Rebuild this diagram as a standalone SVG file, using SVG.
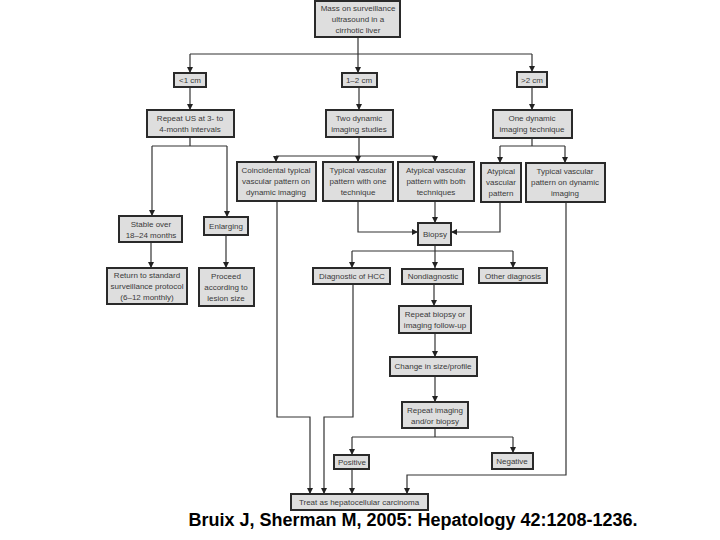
<svg xmlns="http://www.w3.org/2000/svg" width="720" height="540" viewBox="0 0 720 540">
<style>
.b{fill:#dedede;stroke:#2a2a2a;stroke-width:2}
.t{font-family:"Liberation Sans",Arial,sans-serif;font-size:8px;fill:#3a3a3a;text-anchor:middle}
.c{fill:none;stroke:#333;stroke-width:1.2}
.a{marker-end:url(#ah)}
</style>
<defs>
<marker id="ah" viewBox="0 0 10 10" refX="10" refY="5" markerWidth="6" markerHeight="6" markerUnits="userSpaceOnUse" orient="auto">
<path d="M0,0 L10,5 L0,10 z" fill="#222"/>
</marker>
</defs>
<rect width="720" height="540" fill="#fff"/>
<g id="connectors">
<path class="c a" d="M358,37 V73"/>
<path class="c" d="M190,54 H532"/>
<path class="c a" d="M190,54 V73"/>
<path class="c a" d="M532,54 V72"/>
<path class="c a" d="M190,87 V110"/>
<path class="c a" d="M359,87 V110"/>
<path class="c a" d="M532,87 V110"/>
<path class="c" d="M190,137 V146 M152,146 H227"/>
<path class="c a" d="M152,146 V216"/>
<path class="c a" d="M227,146 V217"/>
<path class="c a" d="M151,242 V268"/>
<path class="c a" d="M226,235 V268"/>
<path class="c" d="M359,137 V156 M276,156 H435"/>
<path class="c a" d="M276,156 V162"/>
<path class="c a" d="M358,156 V162"/>
<path class="c a" d="M435,156 V162"/>
<path class="c" d="M532,138 V146 M500,146 H565"/>
<path class="c a" d="M500,146 V163"/>
<path class="c a" d="M565,146 V163"/>
<path class="c a" d="M358,201 V232 H418"/>
<path class="c a" d="M435,201 V223"/>
<path class="c a" d="M500,202 V232 H451"/>
<path class="c a" d="M435,245 V268"/>
<path class="c" d="M352,251 H513"/>
<path class="c a" d="M352,251 V268"/>
<path class="c a" d="M513,251 V268"/>
<path class="c a" d="M434,284 V306"/>
<path class="c a" d="M435,333 V357"/>
<path class="c a" d="M435,376 V402"/>
<path class="c" d="M435,428 V437 M352,437 H513"/>
<path class="c a" d="M352,437 V455"/>
<path class="c a" d="M513,437 V453"/>
<path class="c a" d="M352,469 V494"/>
<path class="c a" d="M277,201 V417 H310 V494"/>
<path class="c a" d="M353,284 V417 H324 V494"/>
<path class="c a" d="M566,202 V475 H407 V494"/>
</g>
<g id="mass"><rect class="b" x="315" y="1" width="85" height="36"/>
<text class="t" x="358" y="11">Mass on surveillance</text><text class="t" x="358" y="22">ultrasound in a</text><text class="t" x="358" y="33">cirrhotic liver</text></g>
<g id="lt1"><rect class="b" x="174" y="73" width="32" height="14"/><text class="t" x="190" y="83">&lt;1 cm</text></g>
<g id="r12"><rect class="b" x="342" y="73" width="35" height="14"/><text class="t" x="359" y="83">1–2 cm</text></g>
<g id="gt2"><rect class="b" x="517" y="72" width="30" height="15"/><text class="t" x="532" y="83">&gt;2 cm</text></g>
<g id="repeatus"><rect class="b" x="147" y="110" width="87" height="27"/>
<text class="t" x="190" y="121">Repeat US at 3- to</text><text class="t" x="190" y="132">4-month intervals</text></g>
<g id="twodyn"><rect class="b" x="326" y="110" width="67" height="27"/>
<text class="t" x="359" y="121">Two dynamic</text><text class="t" x="359" y="132">imaging studies</text></g>
<g id="onedyn"><rect class="b" x="493" y="110" width="79" height="28"/>
<text class="t" x="532" y="121">One dynamic</text><text class="t" x="532" y="132">imaging technique</text></g>
<g id="coinc"><rect class="b" x="237" y="162" width="79" height="39"/>
<text class="t" x="276" y="173">Coincidental typical</text><text class="t" x="276" y="184">vascular pattern on</text><text class="t" x="276" y="195">dynamic imaging</text></g>
<g id="typone"><rect class="b" x="323" y="162" width="70" height="39"/>
<text class="t" x="358" y="173">Typical vascular</text><text class="t" x="358" y="184">pattern with one</text><text class="t" x="358" y="195">technique</text></g>
<g id="atypboth"><rect class="b" x="398" y="162" width="76" height="39"/>
<text class="t" x="436" y="173">Atypical vascular</text><text class="t" x="436" y="184">pattern with both</text><text class="t" x="436" y="195">techniques</text></g>
<g id="atyp"><rect class="b" x="481" y="163" width="40" height="39"/>
<text class="t" x="501" y="174">Atypical</text><text class="t" x="501" y="185">vascular</text><text class="t" x="501" y="196">pattern</text></g>
<g id="typdyn"><rect class="b" x="526" y="163" width="79" height="39"/>
<text class="t" x="565" y="174">Typical vascular</text><text class="t" x="565" y="185">pattern on dynamic</text><text class="t" x="565" y="196">imaging</text></g>
<g id="stable"><rect class="b" x="119" y="216" width="63" height="26"/>
<text class="t" x="151" y="227">Stable over</text><text class="t" x="151" y="238">18–24 months</text></g>
<g id="enlarging"><rect class="b" x="204" y="217" width="44" height="18"/><text class="t" x="226" y="229">Enlarging</text></g>
<g id="biopsy"><rect class="b" x="418" y="223" width="33" height="22"/><text class="t" x="435" y="237">Biopsy</text></g>
<g id="return"><rect class="b" x="107" y="268" width="80" height="36"/>
<text class="t" x="147" y="278">Return to standard</text><text class="t" x="147" y="289">surveillance protocol</text><text class="t" x="147" y="300">(6–12 monthly)</text></g>
<g id="proceed"><rect class="b" x="199" y="268" width="55" height="38"/>
<text class="t" x="226" y="279">Proceed</text><text class="t" x="226" y="290">according to</text><text class="t" x="226" y="301">lesion size</text></g>
<g id="diaghcc"><rect class="b" x="313" y="268" width="77" height="16"/><text class="t" x="352" y="279">Diagnostic of HCC</text></g>
<g id="nondiag"><rect class="b" x="402" y="269" width="61" height="15"/><text class="t" x="433" y="279">Nondiagnostic</text></g>
<g id="other"><rect class="b" x="479" y="268" width="68" height="15"/><text class="t" x="513" y="279">Other diagnosis</text></g>
<g id="repbiopsy"><rect class="b" x="399" y="306" width="72" height="27"/>
<text class="t" x="435" y="317">Repeat biopsy or</text><text class="t" x="435" y="328">imaging follow-up</text></g>
<g id="change"><rect class="b" x="390" y="357" width="87" height="19"/><text class="t" x="433" y="369">Change in size/profile</text></g>
<g id="repimg"><rect class="b" x="402" y="402" width="66" height="26"/>
<text class="t" x="435" y="413">Repeat imaging</text><text class="t" x="435" y="424">and/or biopsy</text></g>
<g id="positive"><rect class="b" x="334" y="455" width="35" height="14"/><text class="t" x="352" y="465">Positive</text></g>
<g id="negative"><rect class="b" x="492" y="453" width="41" height="16"/><text class="t" x="512" y="464">Negative</text></g>
<g id="treat"><rect class="b" x="291" y="494" width="137" height="16"/><text class="t" x="359" y="505">Treat as hepatocellular carcinoma</text></g>
<text x="413" y="526" font-family="Liberation Sans,Arial,sans-serif" font-size="18" font-weight="bold" fill="#000" text-anchor="middle">Bruix J, Sherman M, 2005: Hepatology 42:1208-1236.</text>
</svg>
